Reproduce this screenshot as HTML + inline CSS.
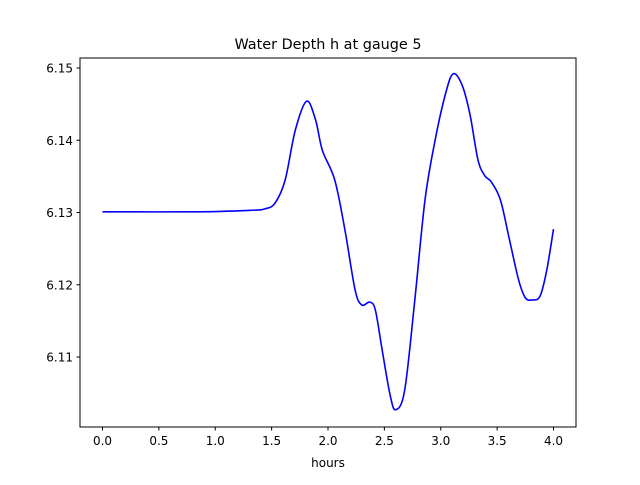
<!DOCTYPE html>
<html><head><meta charset="utf-8"><style>
body{margin:0;background:#fff;}
svg text{font-family:"DejaVu Sans","Liberation Sans",sans-serif;}
</style></head><body>
<svg id="chart" width="640" height="480" xmlns="http://www.w3.org/2000/svg">
<rect width="640" height="480" fill="#fff"/>
<text x="328" y="49" font-size="14.4" text-anchor="middle">Water Depth h at gauge 5</text>
<g id="xt"></g>
<g id="yt"></g>
<path id="line" fill="none" stroke="#0000ff" stroke-width="1.6"/>
<rect x="80" y="58" width="496" height="369" fill="none" stroke="#000" stroke-width="1"/>
<text x="328" y="467" font-size="12" text-anchor="middle">hours</text>
</svg>
<script>
const times=[0,0.86,1.31,1.44,1.53,1.62,1.71,1.81,1.89,1.95,2.06,2.15,2.24,2.30,2.37,2.42,2.48,2.55,2.60,2.68,2.77,2.86,2.95,3.04,3.11,3.19,3.26,3.33,3.39,3.45,3.53,3.61,3.69,3.75,3.81,3.88,3.94,4.0];
const depths=[6.1301,6.1301,6.1303,6.1305,6.1313,6.1345,6.1414,6.1454,6.1428,6.1386,6.1345,6.1276,6.1193,6.1172,6.1176,6.1165,6.1110,6.1048,6.1027,6.1054,6.1179,6.1317,6.1400,6.1463,6.1492,6.1476,6.1435,6.1373,6.1351,6.1342,6.1317,6.1262,6.1207,6.1182,6.1179,6.1184,6.1220,6.1277];
const xTicks=[0,0.5,1,1.5,2,2.5,3,3.5,4];
const xLabels=["0.0","0.5","1.0","1.5","2.0","2.5","3.0","3.5","4.0"];
const yTicks=[6.11,6.12,6.13,6.14,6.15];
const yLabels=["6.11","6.12","6.13","6.14","6.15"];
const X=t=>102.5+t*112.75;
const Y=v=>68+(6.15-v)*7225;
const NS="http://www.w3.org/2000/svg";
const xt=document.getElementById('xt'),yt=document.getElementById('yt');
xTicks.forEach((t,i)=>{
 const l=document.createElementNS(NS,'line');
 l.setAttribute('x1',X(t));l.setAttribute('x2',X(t));l.setAttribute('y1',427);l.setAttribute('y2',430.5);l.setAttribute('stroke','#000');
 
 
 xt.appendChild(l);
 const tx=document.createElementNS(NS,'text');
 tx.setAttribute('x',X(t));tx.setAttribute('y',445);tx.setAttribute('font-size','12');tx.setAttribute('text-anchor','middle');
 tx.textContent=xLabels[i];
 
 
 xt.appendChild(tx);
});
yTicks.forEach((v,i)=>{
 const l=document.createElementNS(NS,'line');
 l.setAttribute('x1',76.5);l.setAttribute('x2',80);l.setAttribute('y1',Y(v));l.setAttribute('y2',Y(v));l.setAttribute('stroke','#000');
 
 
 yt.appendChild(l);
 const tx=document.createElementNS(NS,'text');
 tx.setAttribute('x',73);tx.setAttribute('y',Y(v)+4.5);tx.setAttribute('font-size','12');tx.setAttribute('text-anchor','end');
 tx.textContent=yLabels[i];
 
 
 yt.appendChild(tx);
});
const P=times.map((t,i)=>[X(t),Y(depths[i])]);
let d='M'+P[0][0]+','+P[0][1];
for(let i=0;i<P.length-1;i++){
 const p0=P[Math.max(0,i-1)],p1=P[i],p2=P[i+1],p3=P[Math.min(P.length-1,i+2)];
 const c1=[p1[0]+(p2[0]-p0[0])/6,p1[1]+(p2[1]-p0[1])/6];
 const c2=[p2[0]-(p3[0]-p1[0])/6,p2[1]-(p3[1]-p1[1])/6];
 d+=' C'+c1+' '+c2+' '+p2;
}
document.getElementById('line').setAttribute('d',d);
</script>
</body></html>
